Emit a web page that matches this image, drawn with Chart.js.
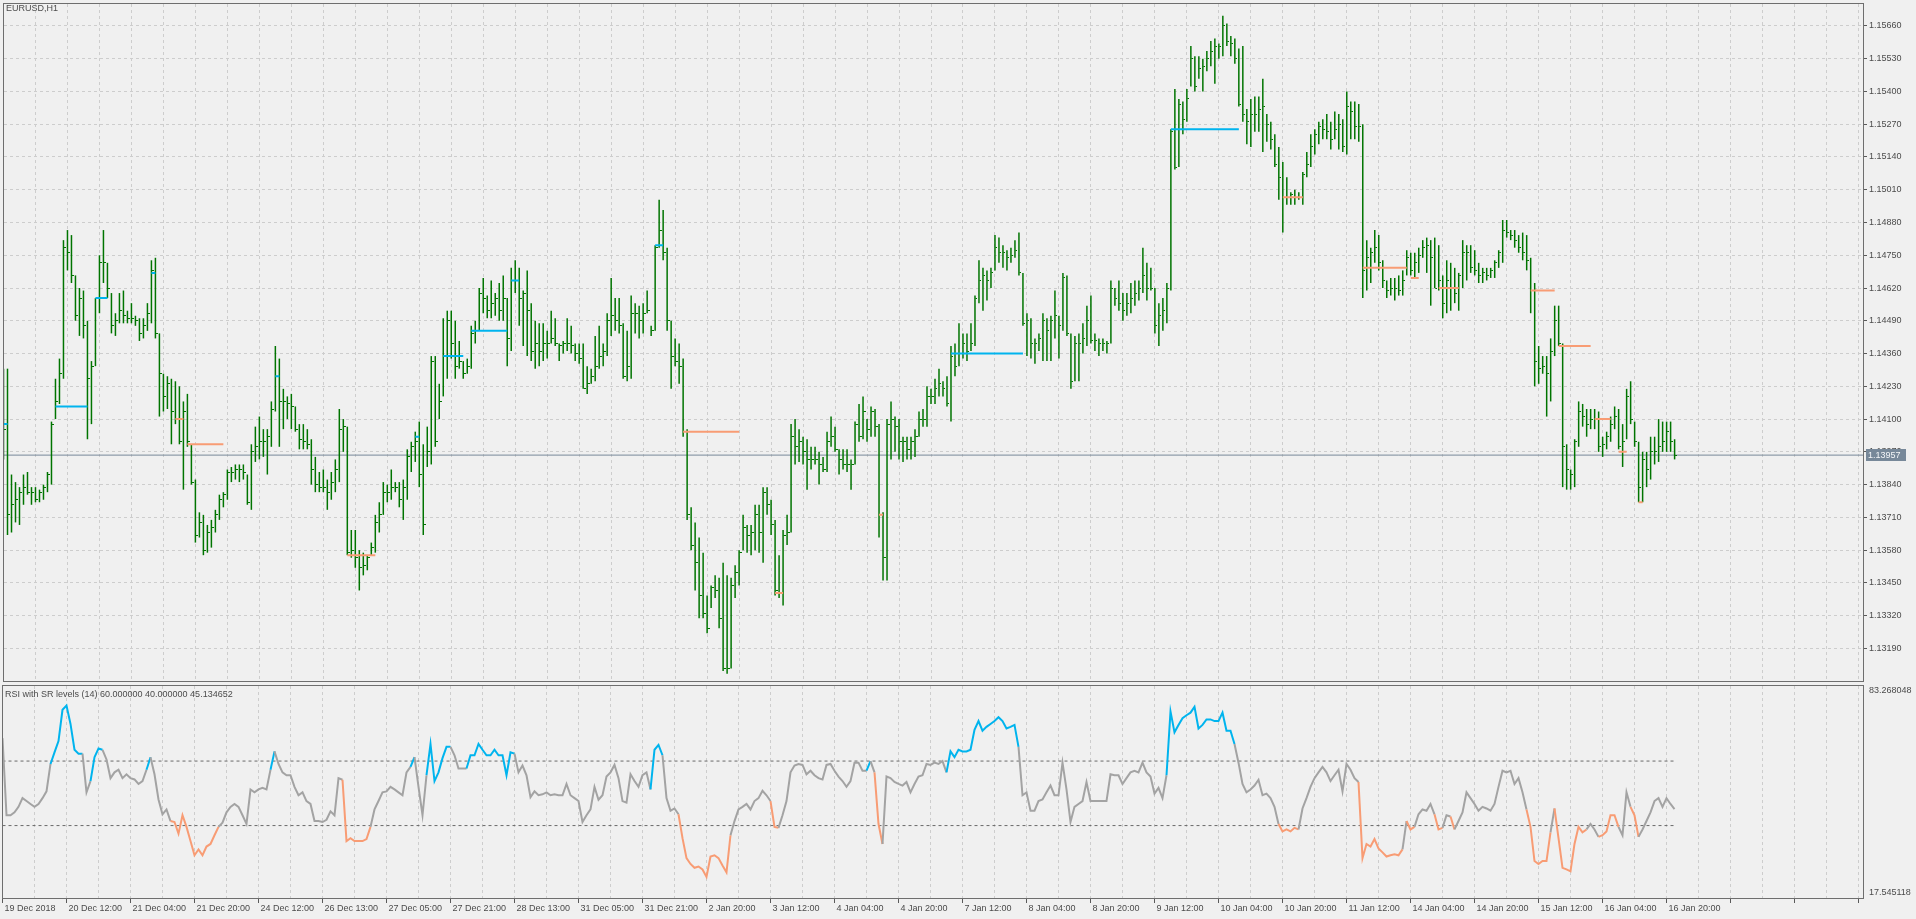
<!DOCTYPE html>
<html><head><meta charset="utf-8"><title>EURUSD,H1</title>
<script src="https://cdn.jsdelivr.net/npm/chart.js@4.4.1/dist/chart.umd.min.js"></script>
<style>
html,body{margin:0;padding:0;background:#f0f0f0;width:1916px;height:919px;overflow:hidden;position:relative;}
#pw{position:absolute;left:0;top:0;width:1916px;height:685px;}
#rw{position:absolute;left:0;top:685px;width:1916px;height:234px;}
.hdr{position:absolute;font:9px 'Liberation Sans',Arial,sans-serif;line-height:11px;color:#4b4b4b;white-space:nowrap;}
</style></head>
<body>
<div id="pw"><canvas id="pc"></canvas></div>
<div id="rw"><canvas id="rc"></canvas></div>
<div class="hdr" style="left:6px;top:3px">EURUSD,H1</div>
<div class="hdr" style="left:5px;top:689px">RSI with SR levels (14) 60.000000 40.000000 45.134652</div>
<script>
// ---------------- data ----------------
const timeLabels = ['19 Dec 2018','20 Dec 12:00','21 Dec 04:00','21 Dec 20:00','24 Dec 12:00','26 Dec 13:00','27 Dec 05:00','27 Dec 21:00','28 Dec 13:00','31 Dec 05:00','31 Dec 21:00','2 Jan 20:00','3 Jan 12:00','4 Jan 04:00','4 Jan 20:00','7 Jan 12:00','8 Jan 04:00','8 Jan 20:00','9 Jan 12:00','10 Jan 04:00','10 Jan 20:00','11 Jan 12:00','14 Jan 04:00','14 Jan 20:00','15 Jan 12:00','16 Jan 04:00','16 Jan 20:00'];
const priceTicks = [1.13190,1.13320,1.13450,1.13580,1.13710,1.13840,1.13970,1.14100,1.14230,1.14360,1.14490,1.14620,1.14750,1.14880,1.15010,1.15140,1.15270,1.15400,1.15530,1.15660];
const lastPrice = 1.13957;
const rsiScaleLabels = ['83.268048','17.545118'];
const rsiLevels = [60, 40];

const highs = [
1.1430,1.1430,1.1388,1.1385,1.1383,1.1388,1.1389,1.1383,1.1383,1.1382,
1.1384,1.1389,1.1409,1.1426,1.1434,1.1481,1.1485,1.1483,1.1467,1.1462,
1.1461,1.1449,1.1433,1.1458,1.1475,1.1485,1.1472,1.1460,1.1452,1.1460,
1.1461,1.1453,1.1456,1.1451,1.1450,1.1450,1.1456,1.1473,1.1474,1.1444,
1.1428,1.1427,1.1426,1.1425,1.1423,1.1417,1.1420,1.1400,1.1386,1.1373,
1.1372,1.1368,1.1370,1.1374,1.1380,1.1381,1.1390,1.1391,1.1392,1.1392,
1.1392,1.1388,1.1400,1.1407,1.1411,1.1406,1.1406,1.1417,1.1439,1.1434,
1.1422,1.1419,1.1420,1.1415,1.1408,1.1408,1.1406,1.1402,1.1395,1.1389,
1.1390,1.1386,1.1389,1.1394,1.1414,1.1410,1.1407,1.1366,1.1366,1.1358,
1.1357,1.1356,1.1361,1.1372,1.1377,1.1385,1.1384,1.1390,1.1385,1.1385,
1.1386,1.1398,1.1401,1.1405,1.1409,1.1400,1.1407,1.1435,1.1435,1.1424,
1.1450,1.1453,1.1453,1.1449,1.1441,1.1433,1.1434,1.1447,1.1449,1.1462,
1.1466,1.1459,1.1465,1.1460,1.1464,1.1467,1.1458,1.1470,1.1473,1.1470,
1.1461,1.1469,1.1456,1.1449,1.1448,1.1448,1.1445,1.1453,1.1450,1.1440,
1.1441,1.1450,1.1447,1.1440,1.1440,1.1440,1.1431,1.1430,1.1443,1.1447,
1.1440,1.1452,1.1466,1.1458,1.1458,1.1448,1.1445,1.1459,1.1456,1.1455,
1.1456,1.1461,1.1447,1.1479,1.1497,1.1493,1.1478,1.1449,1.1442,1.1440,
1.1434,1.1406,1.1375,1.1369,1.1363,1.1357,1.1340,1.1344,1.1348,1.1347,
1.1353,1.1348,1.1347,1.1352,1.1358,1.1372,1.1368,1.1368,1.1376,1.1376,
1.1383,1.1383,1.1378,1.1370,1.1356,1.1366,1.1372,1.1408,1.1410,1.1406,
1.1403,1.1402,1.1399,1.1399,1.1397,1.1395,1.1405,1.1411,1.1407,1.1398,
1.1398,1.1398,1.1394,1.1409,1.1416,1.1419,1.1410,1.1415,1.1414,1.1408,
1.1373,1.1410,1.1417,1.1411,1.1410,1.1403,1.1403,1.1403,1.1406,1.1413,
1.1414,1.1423,1.1422,1.1426,1.1430,1.1425,1.1427,1.1439,1.1440,1.1448,
1.1444,1.1444,1.1448,1.1459,1.1473,1.1470,1.1469,1.1470,1.1483,1.1482,
1.1479,1.1477,1.1478,1.1481,1.1484,1.1468,1.1452,1.1450,1.1442,1.1444,
1.1452,1.1450,1.1451,1.1461,1.1451,1.1468,1.1467,1.1444,1.1443,1.1444,
1.1448,1.1455,1.1459,1.1444,1.1442,1.1442,1.1441,1.1465,1.1462,1.1465,
1.1460,1.1460,1.1464,1.1465,1.1465,1.1478,1.1472,1.1470,1.1462,1.1456,
1.1458,1.1464,1.1525,1.1541,1.1537,1.1536,1.1541,1.1558,1.1554,1.1554,
1.1553,1.1556,1.1560,1.1561,1.1559,1.1570,1.1567,1.1562,1.1561,1.1557,
1.1558,1.1533,1.1537,1.1538,1.1538,1.1545,1.1531,1.1528,1.1523,1.1518,
1.1512,1.1506,1.1500,1.1501,1.1500,1.1508,1.1516,1.1523,1.1525,1.1528,
1.1529,1.1531,1.1528,1.1532,1.1531,1.1529,1.1540,1.1536,1.1536,1.1535,
1.1527,1.1481,1.1478,1.1485,1.1483,1.1473,1.1465,1.1466,1.1466,1.1467,
1.1469,1.1477,1.1476,1.1476,1.1478,1.1481,1.1482,1.1481,1.1482,1.1479,
1.1467,1.1473,1.1472,1.1470,1.1468,1.1481,1.1479,1.1479,1.1477,1.1472,
1.1470,1.1470,1.1470,1.1473,1.1477,1.1489,1.1489,1.1485,1.1485,1.1483,
1.1484,1.1483,1.1474,1.1464,1.1439,1.1435,1.1435,1.1442,1.1455,1.1455,
1.1440,1.1400,1.1390,1.1402,1.1417,1.1416,1.1414,1.1414,1.1414,1.1413,
1.1403,1.1405,1.1411,1.1415,1.1414,1.1408,1.1422,1.1425,1.1409,1.1401,
1.1397,1.1397,1.1403,1.1403,1.1410,1.1409,1.1409,1.1409,1.1402];

const lows = [
1.1394,1.1364,1.1365,1.1369,1.1368,1.1376,1.1380,1.1376,1.1377,1.1377,
1.1378,1.1381,1.1384,1.1410,1.1416,1.1426,1.1469,1.1464,1.1449,1.1443,
1.1442,1.1402,1.1408,1.1431,1.1452,1.1464,1.1458,1.1444,1.1443,1.1448,
1.1448,1.1448,1.1448,1.1447,1.1441,1.1442,1.1445,1.1448,1.1442,1.1411,
1.1413,1.1414,1.1400,1.1408,1.1400,1.1382,1.1399,1.1384,1.1361,1.1363,
1.1356,1.1357,1.1359,1.1365,1.1370,1.1375,1.1378,1.1385,1.1386,1.1385,
1.1386,1.1376,1.1374,1.1393,1.1394,1.1395,1.1388,1.1399,1.1413,1.1399,
1.1406,1.1410,1.1406,1.1405,1.1398,1.1398,1.1398,1.1384,1.1381,1.1381,
1.1381,1.1374,1.1378,1.1381,1.1385,1.1397,1.1356,1.1355,1.1351,1.1342,
1.1348,1.1350,1.1356,1.1357,1.1365,1.1372,1.1377,1.1378,1.1381,1.1375,
1.1370,1.1378,1.1389,1.1393,1.1383,1.1364,1.1391,1.1392,1.1399,1.1410,
1.1419,1.1426,1.1434,1.1426,1.1430,1.1426,1.1428,1.1430,1.1440,1.1445,
1.1452,1.1450,1.1450,1.1451,1.1449,1.1449,1.1431,1.1437,1.1460,1.1447,
1.1439,1.1435,1.1433,1.1430,1.1431,1.1433,1.1434,1.1440,1.1439,1.1433,
1.1436,1.1437,1.1436,1.1433,1.1432,1.1422,1.1420,1.1424,1.1425,1.1430,
1.1431,1.1435,1.1443,1.1445,1.1444,1.1426,1.1425,1.1426,1.1444,1.1442,
1.1444,1.1452,1.1443,1.1445,1.1478,1.1473,1.1445,1.1422,1.1431,1.1424,
1.1403,1.1370,1.1358,1.1342,1.1331,1.1331,1.1325,1.1335,1.1339,1.1327,
1.1310,1.1309,1.1311,1.1339,1.1344,1.1358,1.1357,1.1356,1.1358,1.1357,
1.1353,1.1372,1.1364,1.1340,1.1339,1.1336,1.1360,1.1365,1.1392,1.1393,
1.1392,1.1382,1.1390,1.1392,1.1384,1.1389,1.1389,1.1399,1.1397,1.1388,
1.1390,1.1389,1.1382,1.1392,1.1401,1.1402,1.1401,1.1403,1.1403,1.1363,
1.1346,1.1346,1.1394,1.1397,1.1394,1.1393,1.1394,1.1394,1.1395,1.1403,
1.1407,1.1407,1.1416,1.1416,1.1419,1.1419,1.1415,1.1409,1.1427,1.1431,
1.1434,1.1433,1.1437,1.1439,1.1456,1.1453,1.1457,1.1462,1.1469,1.1472,
1.1470,1.1469,1.1472,1.1474,1.1467,1.1447,1.1435,1.1434,1.1432,1.1437,
1.1433,1.1433,1.1433,1.1442,1.1434,1.1445,1.1443,1.1422,1.1425,1.1425,
1.1436,1.1439,1.1440,1.1437,1.1435,1.1437,1.1436,1.1440,1.1455,1.1453,
1.1449,1.1451,1.1452,1.1455,1.1457,1.1460,1.1457,1.1461,1.1444,1.1439,
1.1445,1.1448,1.1461,1.1509,1.1510,1.1523,1.1528,1.1542,1.1540,1.1545,
1.1540,1.1548,1.1550,1.1543,1.1553,1.1554,1.1558,1.1554,1.1551,1.1534,
1.1528,1.1519,1.1518,1.1524,1.1524,1.1516,1.1520,1.1517,1.1510,1.1497,
1.1484,1.1495,1.1495,1.1495,1.1497,1.1495,1.1506,1.1510,1.1515,1.1519,
1.1521,1.1521,1.1517,1.1521,1.1517,1.1516,1.1515,1.1521,1.1521,1.1520,
1.1458,1.1461,1.1464,1.1472,1.1469,1.1462,1.1458,1.1459,1.1457,1.1459,
1.1459,1.1467,1.1467,1.1466,1.1468,1.1474,1.1468,1.1455,1.1462,1.1461,
1.1450,1.1452,1.1453,1.1456,1.1453,1.1462,1.1465,1.1468,1.1467,1.1464,
1.1464,1.1465,1.1466,1.1466,1.1470,1.1472,1.1482,1.1481,1.1478,1.1476,
1.1473,1.1469,1.1452,1.1423,1.1424,1.1428,1.1411,1.1417,1.1435,1.1439,
1.1383,1.1382,1.1382,1.1383,1.1399,1.1407,1.1403,1.1406,1.1406,1.1397,
1.1395,1.1398,1.1401,1.1406,1.1398,1.1391,1.1402,1.1408,1.1399,1.1377,
1.1377,1.1383,1.1386,1.1392,1.1393,1.1397,1.1397,1.1397,1.1394];

const closes = [
1.1406,1.1372,1.1376,1.1378,1.1381,1.1383,1.1381,1.1381,1.1378,1.1381,
1.1383,1.1388,1.1408,1.1417,1.1428,1.1478,1.1476,1.1467,1.1451,1.1458,
1.1447,1.1426,1.1431,1.1458,1.1472,1.1472,1.1462,1.1447,1.1449,1.1453,
1.1451,1.1450,1.1450,1.1449,1.1444,1.1447,1.1452,1.1469,1.1444,1.1428,
1.1419,1.1424,1.1413,1.1410,1.1401,1.1413,1.1401,1.1385,1.1364,1.1369,
1.1358,1.1365,1.1367,1.1372,1.1378,1.1380,1.1389,1.1389,1.1390,1.1390,
1.1389,1.1377,1.1397,1.1399,1.1401,1.1401,1.1403,1.1414,1.1427,1.1417,
1.1417,1.1416,1.1415,1.1406,1.1402,1.1401,1.1400,1.1390,1.1384,1.1383,
1.1383,1.1381,1.1385,1.1390,1.1406,1.1407,1.1357,1.1358,1.1355,1.1351,
1.1352,1.1355,1.1359,1.1369,1.1372,1.1381,1.1381,1.1383,1.1383,1.1378,
1.1383,1.1395,1.1399,1.1401,1.1388,1.1368,1.1397,1.1433,1.1401,1.1417,
1.1435,1.1449,1.1440,1.1431,1.1433,1.1428,1.1431,1.1444,1.1445,1.1460,
1.1458,1.1453,1.1456,1.1458,1.1453,1.1458,1.1442,1.1465,1.1465,1.1458,
1.1460,1.1453,1.1437,1.1440,1.1437,1.1440,1.1440,1.1442,1.1440,1.1439,
1.1440,1.1440,1.1439,1.1436,1.1434,1.1422,1.1424,1.1427,1.1431,1.1435,
1.1437,1.1449,1.1451,1.1449,1.1447,1.1427,1.1431,1.1452,1.1452,1.1449,
1.1452,1.1453,1.1445,1.1478,1.1485,1.1476,1.1449,1.1435,1.1433,1.1431,
1.1405,1.1372,1.1360,1.1353,1.1340,1.1333,1.1327,1.1343,1.1342,1.1331,
1.1311,1.1311,1.1344,1.1349,1.1357,1.1367,1.1364,1.1365,1.1372,1.1365,
1.1381,1.1376,1.1368,1.1342,1.1341,1.1364,1.1365,1.1403,1.1399,1.1401,
1.1397,1.1394,1.1394,1.1394,1.1392,1.1390,1.1401,1.1403,1.1398,1.1394,
1.1392,1.1392,1.1392,1.1408,1.1403,1.1413,1.1406,1.1413,1.1407,1.1372,
1.1355,1.1408,1.1410,1.1407,1.1401,1.1401,1.1398,1.1401,1.1403,1.1410,
1.1410,1.1419,1.1419,1.1422,1.1424,1.1422,1.1416,1.1435,1.1431,1.1436,
1.1440,1.1437,1.1440,1.1458,1.1465,1.1467,1.1465,1.1468,1.1478,1.1476,
1.1476,1.1474,1.1475,1.1477,1.1468,1.1448,1.1449,1.1440,1.1440,1.1442,
1.1449,1.1445,1.1449,1.1451,1.1447,1.1466,1.1444,1.1425,1.1440,1.1440,
1.1442,1.1449,1.1441,1.1441,1.1440,1.1440,1.1440,1.1462,1.1458,1.1456,
1.1453,1.1456,1.1458,1.1460,1.1462,1.1467,1.1462,1.1462,1.1447,1.1451,
1.1453,1.1462,1.1524,1.1510,1.1535,1.1529,1.1537,1.1553,1.1542,1.1549,
1.1550,1.1553,1.1556,1.1558,1.1558,1.1566,1.1560,1.1559,1.1553,1.1535,
1.1531,1.1528,1.1531,1.1531,1.1533,1.1534,1.1527,1.1521,1.1511,1.1506,
1.1498,1.1498,1.1499,1.1498,1.1498,1.1507,1.1511,1.1518,1.1523,1.1526,
1.1525,1.1524,1.1521,1.1525,1.1527,1.1518,1.1534,1.1532,1.1526,1.1526,
1.1469,1.1474,1.1476,1.1478,1.1472,1.1465,1.1461,1.1462,1.1462,1.1461,
1.1465,1.1474,1.1469,1.1472,1.1475,1.1478,1.1479,1.1474,1.1462,1.1465,
1.1456,1.1465,1.1462,1.1460,1.1467,1.1476,1.1476,1.1470,1.1469,1.1467,
1.1468,1.1467,1.1469,1.1472,1.1476,1.1485,1.1484,1.1483,1.1481,1.1478,
1.1476,1.1473,1.1461,1.1433,1.1430,1.1431,1.1428,1.1437,1.1449,1.1440,
1.1399,1.1390,1.1388,1.1401,1.1413,1.1411,1.1408,1.1410,1.1410,1.1399,
1.1400,1.1403,1.1408,1.1411,1.1399,1.1401,1.1419,1.1410,1.1401,1.1383,
1.1394,1.1390,1.1397,1.1397,1.1399,1.1401,1.1405,1.1401,1.13957];

const rsiValues = [
67.1,43.2,43.2,44.1,45.8,48.5,47.6,46.7,45.8,46.7,
48.5,50.6,59.1,62.7,66.2,75.9,77.2,71.5,63.5,62.3,
62.3,50.3,53.8,61.2,63.9,63.5,60.5,54.7,56.5,57.3,
54.7,55.9,54.7,54.3,52.9,53.8,57.3,61.2,55.9,48.1,
43.5,45.0,41.4,41.1,37.5,43.2,39.6,35.2,30.8,32.6,
30.8,33.5,34.3,37.0,39.6,40.9,44.1,45.8,46.7,45.8,
43.2,40.5,51.2,50.3,51.2,51.7,51.2,57.3,63.0,59.1,
56.5,55.6,55.6,52.0,49.4,50.3,47.6,46.7,41.4,41.4,
41.1,41.8,44.4,43.2,54.7,54.2,35.2,36.1,35.2,35.2,
35.2,35.8,39.6,45.0,47.6,50.3,50.6,52.0,51.2,50.3,
49.4,56.5,58.2,61.2,52.0,43.2,55.6,65.3,53.8,56.5,
60.9,64.4,64.4,61.8,57.7,57.7,57.7,61.8,61.8,65.3,
63.5,61.8,61.8,63.5,61.8,61.8,55.6,62.7,62.3,56.5,
58.6,55.6,48.8,50.6,49.4,49.7,50.3,49.4,49.7,49.4,
49.4,52.9,49.4,48.5,47.6,41.1,43.2,45.0,52.0,48.0,
49.4,55.2,56.5,58.8,54.7,47.6,47.1,55.9,53.8,52.0,
55.6,56.5,51.2,63.5,65.0,61.8,48.5,44.6,45.3,43.5,
36.1,29.9,28.1,26.9,27.3,26.4,24.1,30.4,30.8,29.9,
27.6,25.5,37.0,41.4,45.0,45.8,46.7,45.0,47.6,48.5,
50.8,49.4,47.6,39.6,39.3,43.2,47.6,56.5,58.6,59.1,
58.8,55.9,57.0,55.6,54.7,54.3,58.8,59.1,57.0,55.2,
53.8,52.0,53.8,59.5,59.5,57.0,57.0,60.0,56.5,40.5,
34.3,55.2,54.7,53.5,52.9,52.4,53.5,50.3,52.9,55.2,
55.6,59.1,58.8,59.5,59.1,60.0,56.5,63.0,61.2,63.5,
63.0,63.0,63.5,69.7,72.4,69.4,70.6,71.5,72.4,73.6,
72.4,70.1,70.6,71.2,64.4,49.4,50.3,44.6,44.6,47.6,
48.1,50.3,52.4,49.4,49.4,59.5,51.2,41.1,45.8,46.7,
47.6,53.5,47.6,47.6,47.6,47.6,47.6,55.9,55.6,55.6,
52.9,54.7,56.5,57.0,56.5,59.5,56.5,55.2,49.9,51.7,
48.5,55.6,75.4,68.9,71.2,73.3,74.2,75.0,76.8,70.1,
71.2,72.9,72.9,72.4,72.4,75.0,69.4,69.4,65.3,59.5,
52.9,50.3,51.2,52.4,54.2,49.4,49.9,48.5,45.8,40.5,
38.2,38.8,38.2,39.3,38.8,45.3,48.5,52.0,54.7,56.5,
58.2,56.5,53.8,55.6,57.3,50.6,59.1,57.3,54.7,53.5,
29.9,34.3,33.5,35.8,32.9,31.7,30.4,30.8,31.1,30.8,
32.6,41.4,38.8,39.6,43.5,45.0,44.6,46.7,43.5,38.8,
39.3,43.2,42.8,38.8,41.4,44.1,50.3,48.5,46.7,44.6,
45.8,45.3,44.6,46.7,52.0,57.0,56.5,57.0,52.9,54.7,
50.3,45.0,39.6,29.0,28.1,29.0,29.0,37.9,45.3,36.1,
26.9,26.4,25.8,34.3,39.6,37.9,38.8,40.5,38.8,36.5,
37.0,38.2,43.2,43.2,39.6,37.0,50.3,45.8,43.2,36.5,
38.8,41.4,44.1,47.6,48.5,45.8,48.5,46.7,45.134652];

// support / resistance level segments (bar index from, to, price)
const upLevelFrom  = [0,13,23,37,68,103,110,117,127,163,237,292];
const upLevelTo    = [1,21,26,38,69,104,115,126,129,165,255,309];
const upLevelPrice = [1.1408,1.1415,1.1458,1.1468,1.1427,1.1403,1.1435,1.1445,1.1465,1.1479,1.1436,1.1525];
const dnLevelFrom  = [43,46,86,170,193,219,320,340,352,359,382,389,398,404,409];
const dnLevelTo    = [45,55,93,184,195,220,325,351,354,364,388,397,402,406,410];
const dnLevelPrice = [1.1410,1.1400,1.1356,1.1405,1.1341,1.1372,1.1498,1.1470,1.1466,1.1462,1.1461,1.1439,1.1410,1.1397,1.1377];

// RSI colour state ranges (bar index from, to)
const rsiUpFrom = [12,22,36,67,102,106,116,162,216,236,291];
const rsiUpTo   = [20,25,37,68,103,112,128,165,217,254,308];
const rsiDnFrom = [42,85,169,192,218,319,339,351,358,362,381,388,399,407];
const rsiDnTo   = [54,92,182,194,220,324,350,353,360,363,387,396,404,409];

// ---------------- styling ----------------
const GREEN = '#007400', CYAN = '#00b4ee', SALMON = '#f89c74', RSIGRAY = '#a3a3a3';
const GRID = '#cdcdcd', FRAME = '#6e6e6e', TXT = '#4b4b4b', BIDLINE = '#778899';
const FONT = {family: "'Liberation Sans', Arial, sans-serif", size: 9};
const N = highs.length;
const xMin = 0.125, xMax = 465.125;
const priceMin = 1.130608, priceMax = 1.157469;
const rsiMax = 83.268048, rsiMin = 17.545118;
const gridIdx = []; for (let v = 0; v <= 464; v += 8) gridIdx.push(v);

function segData(from, to, price) {
  const out = [];
  for (let k = 0; k < from.length; k++) {
    out.push({x: from[k], y: price[k]}, {x: to[k], y: price[k]}, {x: to[k] + 0.01, y: null});
  }
  return out;
}
function inRanges(a, b, from, to) {
  for (let k = 0; k < from.length; k++) if (a >= from[k] && b <= to[k]) return true;
  return false;
}

// close tick marker (small dash to the right of each bar)
const tickImg = document.createElement('canvas');
tickImg.width = 5; tickImg.height = 1;
(function(){ const c = tickImg.getContext('2d'); c.fillStyle = GREEN; c.fillRect(3, 0, 2, 1); })();

const framePlugin = {
  id: 'frame',
  afterDraw(chart) {
    const a = chart.chartArea, ctx = chart.ctx;
    ctx.save(); ctx.strokeStyle = FRAME; ctx.lineWidth = 1;
    ctx.strokeRect(a.left - 0.5, a.top - 0.5, a.right - a.left + 1, a.bottom - a.top + 1);
    ctx.restore();
  }
};
const bidLabelPlugin = {
  id: 'bidLabel',
  afterDraw(chart) {
    const y = Math.round(chart.scales.y.getPixelForValue(lastPrice));
    const a = chart.chartArea, ctx = chart.ctx;
    ctx.save();
    ctx.fillStyle = BIDLINE; ctx.fillRect(a.right + 3, y - 6, 40, 12);
    ctx.fillStyle = '#f4f6f8'; ctx.font = "9px 'Liberation Sans', Arial, sans-serif";
    ctx.textBaseline = 'middle'; ctx.textAlign = 'left';
    ctx.fillText(lastPrice.toFixed(5), a.right + 5, y + 0.5);
    ctx.restore();
  }
};

function xScale(showLabels) {
  return {
    type: 'linear', min: xMin, max: xMax, offset: false, bounds: 'data',
    afterBuildTicks: s => { s.ticks = gridIdx.map(v => ({value: v})); },
    afterFit: s => { s.height = showLabels ? 21 : 0; s.paddingLeft = 0; s.paddingRight = 0; },
    grid: {offset: false, color: GRID, lineWidth: 1, drawTicks: showLabels, tickLength: 5, tickWidth: 1,
      tickColor: c => (c.tick && c.tick.value % 16 === 0) ? '#5a5a5a' : 'rgba(0,0,0,0)'},
    border: {display: false, dash: [3, 3]},
    ticks: {display: showLabels, autoSkip: false, maxRotation: 0, minRotation: 0, align: 'start',
      padding: 0, labelOffset: 2, font: FONT, color: TXT,
      callback: v => (v % 16 === 0 && timeLabels[v / 16] !== undefined) ? timeLabels[v / 16] : ''}
  };
}

const common = {responsive: true, maintainAspectRatio: false, animation: false, devicePixelRatio: 1, events: [],
  plugins: {legend: {display: false}, tooltip: {enabled: false}}};

// ---------------- price chart ----------------
new Chart(document.getElementById('pc'), {
  type: 'bar',
  data: {datasets: [
    {type: 'line', data: [{x: xMin, y: lastPrice}, {x: xMax, y: lastPrice}], borderColor: BIDLINE, borderWidth: 1, pointRadius: 0, order: 5},
    {type: 'bar', data: highs.map((h, i) => ({x: i, y: [lows[i], h]})), backgroundColor: GREEN, borderWidth: 0,
      barThickness: 1.5, inflateAmount: 0, order: 3},
    {type: 'line', data: closes.map((c, i) => ({x: i, y: c})), showLine: false, pointStyle: tickImg,
      pointRadius: 3, pointHoverRadius: 3, order: 2},
    {type: 'line', data: segData(upLevelFrom, upLevelTo, upLevelPrice), borderColor: CYAN, borderWidth: 2, pointRadius: 0, spanGaps: false, order: 1},
    {type: 'line', data: segData(dnLevelFrom, dnLevelTo, dnLevelPrice), borderColor: SALMON, borderWidth: 2, pointRadius: 0, spanGaps: false, order: 1}
  ]},
  options: Object.assign({}, common, {
    layout: {padding: {left: 3, top: 3, right: 0, bottom: 2}},
    scales: {
      x: xScale(false),
      y: {position: 'right', min: priceMin, max: priceMax, bounds: 'data',
        afterBuildTicks: s => { s.ticks = priceTicks.map(v => ({value: v})); },
        afterFit: s => { s.width = 53; s.paddingTop = 0; s.paddingBottom = 0; },
        grid: {color: GRID, drawTicks: true, tickLength: 4, tickColor: '#5a5a5a'},
        border: {display: false, dash: [3, 3]},
        ticks: {font: FONT, color: TXT, padding: 2, autoSkip: false, callback: v => v.toFixed(5)}}
    }
  }),
  plugins: [framePlugin, bidLabelPlugin]
});

// ---------------- RSI chart ----------------
new Chart(document.getElementById('rc'), {
  type: 'line',
  data: {datasets: [
    {data: rsiValues.map((v, i) => ({x: i, y: v})), borderColor: RSIGRAY, borderWidth: 2, pointRadius: 0, order: 1,
      segment: {borderColor: c => inRanges(c.p0DataIndex, c.p1DataIndex, rsiUpFrom, rsiUpTo) ? CYAN :
        (inRanges(c.p0DataIndex, c.p1DataIndex, rsiDnFrom, rsiDnTo) ? SALMON : RSIGRAY)}},
    {data: [{x: 0, y: rsiLevels[0]}, {x: N - 1, y: rsiLevels[0]}], borderColor: '#6a6a6a', borderWidth: 1, borderDash: [3, 3], pointRadius: 0, order: 2},
    {data: [{x: 0, y: rsiLevels[1]}, {x: N - 1, y: rsiLevels[1]}], borderColor: '#6a6a6a', borderWidth: 1, borderDash: [3, 3], pointRadius: 0, order: 2}
  ]},
  options: Object.assign({}, common, {
    layout: {padding: {left: 3, top: 1, right: 0, bottom: 0}},
    scales: {
      x: xScale(true),
      y: {position: 'right', min: rsiMin, max: rsiMax, bounds: 'data',
        afterBuildTicks: s => { s.ticks = [{value: rsiMax - 1.46}, {value: rsiMin + 1.64}]; },
        afterFit: s => { s.width = 53; s.paddingTop = 0; s.paddingBottom = 0; },
        grid: {drawOnChartArea: false, drawTicks: false},
        border: {display: false},
        ticks: {font: FONT, color: TXT, padding: 6, autoSkip: false, callback: (v, i) => rsiScaleLabels[i]}}
    }
  }),
  plugins: [framePlugin]
});
</script>
</body></html>
